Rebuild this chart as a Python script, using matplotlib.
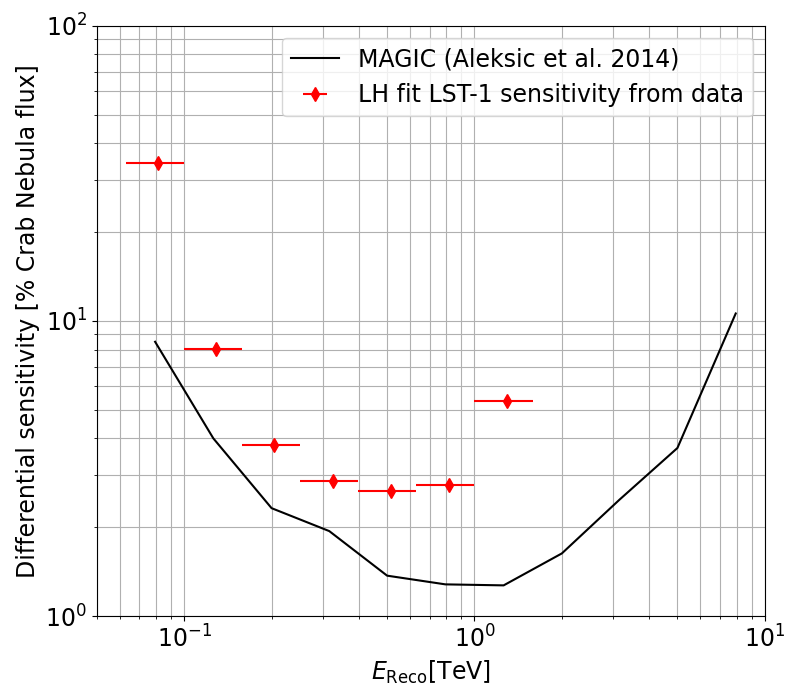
import numpy as np
import matplotlib
matplotlib.use('Agg')
import matplotlib.pyplot as plt

# MAGIC reference sensitivity (Aleksic et al. 2014)
magic_energy = [0.0794, 0.126, 0.2, 0.316, 0.5, 0.794, 1.26, 2.0, 3.16, 5.0, 7.94]
magic_sens = [8.5, 4.0, 2.32, 1.94, 1.37, 1.28, 1.27, 1.63, 2.48, 3.71, 10.6]

# LST-1 sensitivity from data, per energy bin
bin_edges = [0.0631, 0.1, 0.158, 0.251, 0.398, 0.631, 1.0, 1.585]
lst_sens = [34.2, 8.02, 3.8, 2.87, 2.65, 2.78, 5.36]

bin_edges = np.array(bin_edges)
centers = 0.5 * (bin_edges[:-1] + bin_edges[1:])
xerr = [centers - bin_edges[:-1], bin_edges[1:] - centers]

plt.rcParams['font.size'] = 17

fig, ax = plt.subplots(figsize=(8, 7), dpi=100)
fig.subplots_adjust(left=0.121, right=0.956, top=0.963, bottom=0.12)

ax.plot(magic_energy, magic_sens, color='black', label='MAGIC (Aleksic et al. 2014)')
ax.errorbar(centers, lst_sens, xerr=xerr, fmt='d', color='red', markersize=7,
            label='LH fit LST-1 sensitivity from data')

ax.set_xscale('log')
ax.set_yscale('log')
ax.set_xlim(0.05, 10)
ax.set_ylim(1, 100)
ax.grid(which='both')
ax.set_xlabel(r'$E_{\mathrm{Reco}}$[TeV]')
ax.set_ylabel('Differential sensitivity [% Crab Nebula flux]')
ax.legend(loc='upper right')

plt.savefig('out.png')
